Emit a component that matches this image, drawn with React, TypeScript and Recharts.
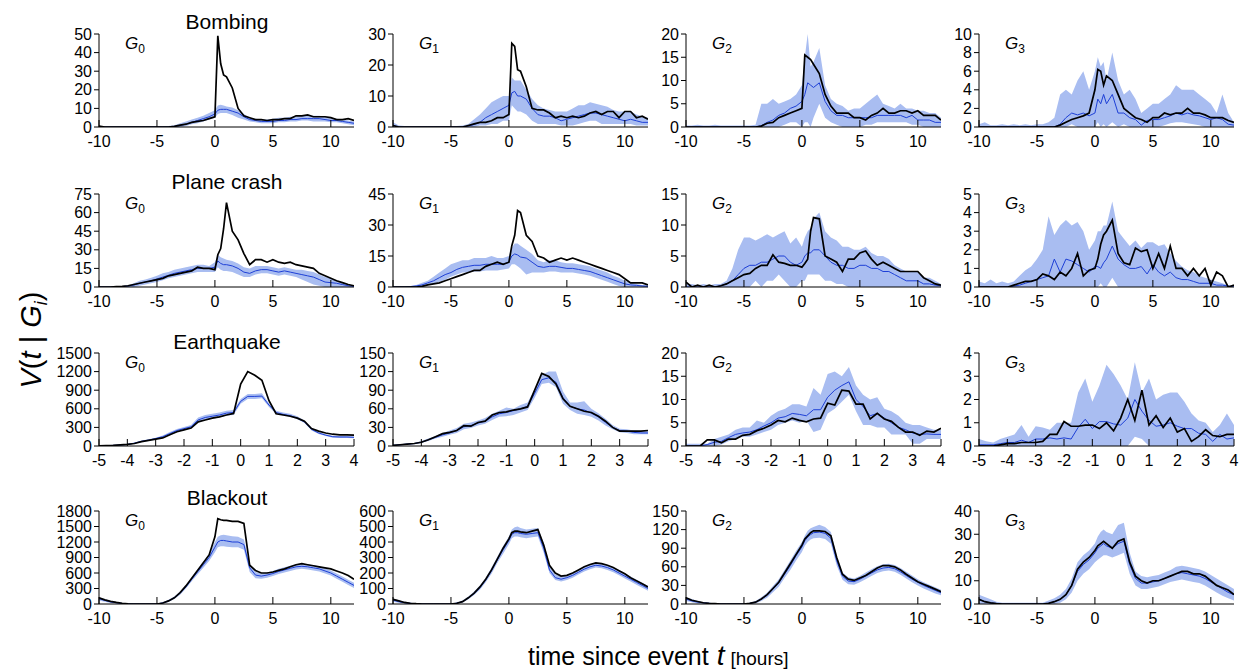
import { ComposedChart, Line, Area, XAxis, YAxis } from 'recharts';

// time grids (hours since event)
const LONG_T = [
  -10, -9.5, -9, -8.5, -8, -7.5, -7, -6.5, -6, -5.5, -5, -4.5, -4,
  -3.5, -3, -2.5, -2, -1.5, -1, -0.5,
  0, 0.25, 0.5, 0.75, 1,
  1.5, 2, 2.5, 3, 3.5, 4, 4.5, 5, 5.5, 6, 6.5, 7, 7.5, 8, 8.5, 9, 9.5, 10, 10.5, 11, 11.5, 12,
];
const QUAKE_T = [
  -5, -4.75, -4.5, -4.25, -4, -3.75, -3.5, -3.25, -3, -2.75, -2.5, -2.25, -2, -1.75, -1.5, -1.25, -1, -0.75, -0.5, -0.25,
  0, 0.25, 0.5, 0.75, 1, 1.25, 1.5, 1.75, 2, 2.25, 2.5, 2.75, 3, 3.25, 3.5, 3.75, 4,
];

const LONG_TICKS = [-10, -5, 0, 5, 10];
const QUAKE_TICKS = [-5, -4, -3, -2, -1, 0, 1, 2, 3, 4];

const EVENTS = ['Bombing', 'Plane crash', 'Earthquake', 'Blackout'];

// y ticks per panel, G0..G3
const bombingTicks = [[0, 10, 20, 30, 40, 50], [0, 10, 20, 30], [0, 5, 10, 15, 20], [0, 2, 4, 6, 8, 10]];
const planeTicks = [[0, 15, 30, 45, 60, 75], [0, 15, 30, 45], [0, 5, 10, 15], [0, 1, 2, 3, 4, 5]];
const quakeTicks = [[0, 300, 600, 900, 1200, 1500], [0, 30, 60, 90, 120, 150], [0, 5, 10, 15, 20], [0, 1, 2, 3, 4]];
const blackoutTicks = [[0, 300, 600, 900, 1200, 1500, 1800], [0, 100, 200, 300, 400, 500, 600], [0, 30, 60, 90, 120, 150], [0, 10, 20, 30, 40]];

// ---- Bombing ----
const bombingBlack = [
  [0.5,0,0,0,0,0,0,0,0,0,0,0,0, 0.3,1,1.5,2.5,3,3.5,4.5, 5.5,49,34,28,27, 21,10,6,5,4,4,3.5,4,4,4.5,4.5,6,6,6.5,5.5,5.5,5.5,5,4,4,4.5,3.5],
  [0.5,0,0,0,0,0,0,0,0,0,0,0,0, 0.5,1,1.5,1.5,2,3,3, 4,27,26,18.5,18, 13,6,5.5,5.5,4.5,3,3.5,3,3.5,3,3.5,4.5,5,4,5,5,3,5,5,3,3.5,2.5],
  [0,0,0,0,0,0,0,0,0,0,0,0,0, 0.2,0.8,1,2,2.5,3,3.5, 4,15.5,15,14.5,13.5, 11.5,7,4.5,3,3,3,2,2,1.5,2.5,3,4,3,3,3.5,3.5,3,3.5,2.5,2.5,2.5,1.5],
  [0,0,0,0,0,0,0,0,0,0,0,0,0, 0,0.2,0.5,0.8,1,1.2,1.5, 4,6.2,6,4.5,5.5, 5,3.5,2,1.5,1,0.8,0.5,1,1,1.5,1.3,1.5,1.5,2,1.5,1.5,1.3,1,1,1,0.7,0.5],
];
const bombingBlue = [
  [0,0,0,0,0,0,0,0,0,0,0,0,0, 0.3,0.8,1.5,2.5,3.5,4.5,5.5, 7,9,9.5,9.5,9.5, 8.5,7.5,5.5,4,3.5,3,3,3,3.5,3.5,4,4,4.5,4.5,4.5,4.5,4,3.5,3.5,3,2.5,2],
  [0.5,0,0,0,0,0,0,0,0,0,0,0,0, 0.3,0.8,1.5,3,4,5,6, 7,11,11.5,10,10, 9,6,4,3.5,3.5,3,2,2.5,3,3.5,4,4.5,4.5,4,3.5,3,2.5,2,2.5,2,1.5,1.5],
  [0,0,0,0,0,0,0,0,0,0,0,0,0, 0.3,1,1.5,2.5,3,4,4.5, 5.5,7,9.5,9,8.5, 9.5,5.5,3.5,2.5,2.5,2,2,2,2,2,2.5,2.5,2.5,2.5,2.5,2,2.5,1.5,1.5,1.5,1,1],
  [0,0,0,0,0,0,0,0,0,0,0,0,0, 0,0.3,1,1.5,1.3,1.5,1.2, 1.5,3,2.5,3.5,2.5, 3.5,1.5,1.5,1,0.8,0.2,0.7,0.8,0.8,1,1.2,1.5,1.3,1.5,1.3,1.2,1,0.8,1,0.8,0.3,0.2],
];
const bombingLow = [
  [0,0,0,0,0,0,0,0,0,0,0,0,0, 0,0,0.5,1.5,2,3,4, 5,7,7.5,7.5,7.5, 6.5,5,4,3,2.5,2,2,2,2.5,2.5,3,3,3.5,3.5,3,3,3,2.5,2.5,2,1.5,1],
  [0,0,0,0,0,0,0,0,0,0,0,0,0, 0,0,0.5,0.5,1,1,2, 2,7,6,5,5, 4,2,1,1,1,1,0.5,0.5,0.5,1,1.5,2,2,1,1,1,1,1,1,0.5,0.5,0.5],
  [0,0,0,0,0,0,0,0,0,0,0,0,0, 0,0,0,0,0.5,1,1, 0,1,1,0,2, 5,2,1,0.5,0,0,0,0,0.5,0.5,1,1,1,1,1,1,0.5,0.5,0,0,0,0],
  [0,0,0,0,0,0,0,0,0,0,0,0,0, 0,0,0,0.3,0,0,0, 0,0.5,0,0.3,0, 0.5,0,0.3,0,0,0,0,0,0,0.2,0.4,0.5,0.5,0.4,0.3,0.2,0,0,0,0,0,0],
];
const bombingHigh = [
  [0.5,0.3,0.3,0.3,0.3,0.3,0.3,0.3,0.3,0.3,0.3,0.3,0.5, 1,2,3,4,5,6,7.5, 9,11.5,12,11.5,11, 10.5,9,7,5,4.5,4,4,4.5,5,5,5.5,5.5,6,6,6,6,5.5,5,4.5,4,3.5,3],
  [1.5,0.5,0.3,0.3,0.3,0.3,0.3,0.3,0.3,0.3,0.3,0.3,0.5, 1,2.5,4,6,8,9,10, 10,16,15,15,15, 12,9,7,6,5.5,5,5,5,6,7,7,8,7.5,7,6.5,5.5,5,5,5,4,3.5,3],
  [0.3,0.3,0.5,0.3,0.3,0.5,0.3,0.3,0.3,0.3,0.3,0.3,0.5, 5,5,6,5,5.5,6,7, 9,15,20,13,14, 17,9,6,5,4.5,3.5,4,4,5,6,7,5,4.5,4,5,4,4,3.5,3.5,3,3,2],
  [0.3,0.5,0.2,0.2,0.3,0.2,0.3,0.2,0.3,0.2,0.3,0.3,0.5, 1,3.5,4,3.5,5,6,4, 6,7.5,6.5,7,5, 8,5,3.5,4,3,1.5,2,2.5,2.5,3,3.5,4.5,4,4,4,3.5,3,2.5,1.5,3.5,1.5,0.5],
];

// ---- Plane crash ----
const planeBlack = [
  [0,0,0,0.3,0.5,1,2,3,4,5,6,7,9, 10,11,12,13,16,15,15, 14,26,31,47,68, 45,38,27,18,22,22,20,22,20,19,20,18,17,16,15,11,9,7,5,3.5,2,1],
  [0,0,0,0,0,0.3,1,1.5,2,3,4,5,6, 7,8,8,10,11,12,11, 12,20,25,37,36, 25,22,15,14,12,13,14,13,14,13,12,11,10,9,8,7,6,4,2,2,2,1],
  [0.8,0,0.3,0,0.3,0,0.2,0.5,1,1.5,2,2.2,3, 3.5,3.5,5.2,4,3.8,3.5,3.5, 3.2,3.8,4.5,9,11.2, 11,5,4.5,4,2.5,4.5,4.5,5.5,5.8,4.5,3.5,4,3.5,3,2.5,2.5,2.5,2.5,1.5,1,0.5,0.3],
  [0,0,0,0,0,0,0.1,0.2,0.3,0.3,0.4,0.7,0.6, 0.4,0.8,0.6,1,1.8,0.6,0.9, 1,1.5,2.3,2.8,3, 3.6,1.8,1.3,1.2,2.1,1.9,2,1,1.8,1,2.2,1,1,0.6,1,0.6,1,0.1,0.8,0.6,0,0.1],
];
const planeBlue = [
  [0,0,0,0,0.3,0.8,1.5,3,4,5,6.5,8,9.5, 11,12,13,14,15,15,15, 16,21,19,18,18, 17,15,12,11,13,14,14,13,12,13,12,11,10,9,8,6,4,3.5,3,2,1,0.5],
  [0,0,0,0.2,0.5,1,2,3,4.5,6,7,8.5,9.5, 10,10.5,10.5,11,11,11,11, 12,15,16,15.5,14.5, 14,12,10,9.5,10,10,9.5,9,9,8.5,8,7.5,6.5,5.5,4.5,3.5,2.5,1.5,1,0.8,0.5,0.3],
  [0,0,0,0,0,0,0.2,0.5,1,2,3,3.5,3.5, 4,4,4.5,5,5,4,3.5, 4,5,5.5,5.5,6, 6,5,4,3.5,3.5,3,3,3.5,3.5,3,3,2.5,2.5,2,1.5,1,1,1,0.5,0.5,0.3,0.2],
  [0,0,0,0,0,0,0.05,0.1,0.2,0.3,0.4,0.5,0.6, 1.5,0.8,1.5,1.4,1.2,1,0.8, 1.1,1.1,1,1.3,1.5, 2.2,1.5,1.2,1,1,1.1,0.7,1.2,0.8,0.6,0.8,0.5,0.4,0.4,0.3,0.2,0.2,0.2,0.1,0.1,0.05,0],
];
const planeLow = [
  [0,0,0,0,0,0,0,1,2,3,4,5.5,7, 8,9,10,11,12,12,12, 12,16,14,13,13, 12,10,8,8,10,11,11,10,9,10,9,8,6,4,2,1,0,0,0,0,0,0],
  [0,0,0,0,0,0,1,1.5,2.5,3.5,5,6,7, 7,7.5,7.5,8,8,8,8.5, 9,11,11,10,9, 6,7,7,7,7.5,7.5,7,7,7,6.5,6,5.5,4.5,3.5,2.5,1.5,0.5,0,0,0,0,0],
  [0,0,0,0,0,0,0,0,0,0,0,0,1, 0,1,1,2,1,0,0, 1,1,2,2,2, 2,1,1,0.5,0.5,0,0,0,0,0,0,0,0,0,0,0,0,0,0,0,0,0],
  [0,0,0,0,0,0,0,0,0,0,0,0,0, 0,0,0,0,0,0,0, 0,0,0.2,0,0, 0.5,0,0,0,0,0,0,0,0,0,0,0,0,0,0,0,0,0,0,0,0,0],
];
const planeHigh = [
  [0.5,0.3,0.3,0.5,0.8,1.5,3,5,6,7.5,9,11,12, 14,15,16,17,18,18,17, 20,26,24,23,22, 21,19,16,15,17,17,17,16,15,16,15,14,14,13,12,10,8,7,5,3.5,2,1],
  [0.5,0.5,0.5,0.5,1,2,3,5,7,9,11,12,13, 13,14,14,14,15,14,14, 15,19,21,21,20, 18,16,13,12,13,13,12,11.5,11.5,11,10.5,10,9,8,7,5.5,4.5,3,2,1.5,1,0.8],
  [0.5,0.5,0.3,0.5,0.3,0.5,0.5,1,3,6,8,8,7.5, 8,8.5,8,8.5,9,7,8, 6.5,8,9,9.5,11, 12,9,8,7.5,6.5,6.5,6,6,6.5,5.5,5,5,4.5,3.5,3,2.5,2.5,2.5,1.5,1.5,1,0.5],
  [0.3,0.2,0.4,0.2,0.3,0.2,0.3,0.6,0.9,1.1,1.5,2,3.8, 2.8,3.3,3.6,3.3,3.5,3,2, 2.5,3,3,3.3,3.3, 4.6,3,2.6,2.2,2.5,2.1,2.4,2.4,2.2,2.3,1.8,1.4,1.1,0.9,0.8,0.6,0.5,0.4,0.3,0.2,0.1,0.05],
];

// ---- Earthquake (QUAKE_T grid) ----
const quakeBlack = [
  [2,5,10,18,25,40,70,90,110,130,180,230,260,290,390,420,450,470,500,525, 1000,1200,1140,1060,730,520,500,480,450,400,280,240,210,190,180,180,175],
  [1,2,3,4,6,10,15,20,22,25,33,32,38,40,50,54,55,58,60,63, 90,117,112,100,76,64,60,56,54,48,40,30,24,24,24,24,25],
  [0,0,0,1.3,1.3,0.7,1.5,1.5,2.3,2.5,3.3,3.8,4.5,5.5,5.2,6,5.5,5.2,5.8,6, 9.2,8.8,12,11.8,9,9,5.8,7,5.8,5.3,4,3,3,2.3,3.2,3,3.8],
  [0,0,0,0.05,0.1,0.1,0.15,0.15,0.15,0.2,0.5,0.5,1.05,0.85,0.85,0.9,0.9,0.75,1,0.65, 1.2,2,1.1,2.4,0.9,1.3,0.8,1.2,0.6,0.75,0.2,0.4,0.7,0.45,0.4,0.5,0.5],
];
const quakeBlue = [
  [2,5,10,15,25,45,75,95,120,150,200,250,280,310,420,460,480,500,530,540, 720,800,800,805,660,540,510,490,450,390,270,210,175,150,145,145,140],
  [1,2,3,4,6,10,14,18,21,25,31,33,37,40,47,52,54,57,60,64, 85,107,110,103,78,64,60,58,53,47,38,30,25,24,22,21,21],
  [0,0,0,0.3,0.8,1,1.8,2.5,2.8,3,3.5,4.3,5,6,6.3,7,6.8,6.5,7.8,7.8, 10.5,12,13,13.8,10,8.5,6.5,7,6,5,4,3.5,2.8,2.5,2.6,2.5,2.5],
  [0.05,0.05,0.05,0.1,0.15,0.15,0.25,0.15,0.3,0.3,0.35,0.3,0.35,0.3,0.8,1.15,0.75,1.05,1.05,0.95, 0.9,1.2,2,1.5,1.1,0.85,0.9,1,0.85,0.75,0.75,0.55,0.5,0.2,0.5,0.3,0.35],
];
const quakeLow = [
  [0,2,5,10,18,35,60,80,105,130,175,225,255,285,380,420,440,460,490,500, 680,760,760,770,630,520,490,470,430,370,250,195,160,135,130,130,125],
  [0,1,2,3,5,8,12,15,18,21,27,29,33,36,42,47,48,50,54,58, 78,100,102,95,68,58,52,50,47,41,33,27,22,21,19,19,19],
  [0,0,0,0,0,0.3,1,1.5,2,2,2.5,3,3.5,4.5,5,5.5,5,5.5,3,3.5, 7,8,9.5,11,7.5,4.5,4.5,4,4,2.5,2.5,2.5,0.5,0.5,1.5,1.5,1.5],
  [0,0,0,0,0,0,0,0,0,0,0,0,0,0,0,0,0,0,0,0, 0,0,0.4,0.3,0,0,0,0,0,0,0,0,0,0,0,0,0],
];
const quakeHigh = [
  [5,10,15,25,35,55,90,110,135,170,225,275,305,340,460,500,520,540,570,580, 760,840,840,850,690,570,540,520,480,410,290,225,190,165,160,160,155],
  [2,3,4,5,8,12,16,21,25,29,36,38,41,45,52,57,62,60,66,70, 92,115,120,120,88,70,70,72,60,53,44,34,28,27,25,24,24],
  [0.5,0.5,0.5,0.5,1.5,2,2.5,3.5,4,4,5.5,5,6.5,7.5,8,9,9,8.5,12.5,11, 15.5,16,15,17,13,11,10,10.5,8,7.5,6.5,5,4.5,4.5,4,3.5,3.5],
  [0.3,0.2,0.15,0.3,0.4,0.5,0.9,0.4,0.85,0.8,0.7,1,1,1,2.3,2.9,1.9,2.6,3.5,3.1, 2.6,2,3.6,2.3,2.9,2,2.2,2.3,2.3,1.9,1.4,1.1,1,0.6,0.9,1.4,0.9],
];

// ---- Blackout ----
const blackoutBlack = [
  [120,80,50,30,15,5,0,0,0,0,0,20,60, 120,220,350,500,650,800,950, 1300,1650,1630,1620,1620, 1600,1600,1560,750,650,600,600,620,650,680,720,760,780,760,740,720,700,680,640,600,550,480],
  [30,20,10,5,2,0,0,0,0,0,0,5,15, 40,70,110,160,220,290,360, 420,460,470,470,465, 460,470,480,380,250,200,180,185,200,220,240,255,265,260,250,235,215,195,170,150,130,110],
  [10,6,4,2,1,0.5,0,0,0,0,0,1,3, 8,15,25,35,50,65,80, 95,105,110,115,118, 118,117,110,75,48,40,38,42,46,52,58,62,62,60,55,48,42,36,32,28,24,20],
  [2,1,0.5,0.2,0,0,0,0,0,0,0,0,0.3, 1,2,4,8,15,18,20, 23,25,26,27,26, 24,27,28,18,12,10,9,10,10,11,12,13,14,14,13,13,12,10,8,7,6,4],
];
const blackoutBlue = [
  [100,70,40,25,10,3,0,0,0,0,0,20,60, 120,210,330,480,620,760,900, 1100,1200,1230,1230,1220, 1200,1200,1150,700,560,540,560,590,630,660,690,720,730,720,700,680,640,600,540,480,420,360],
  [25,15,8,4,2,0,0,0,0,0,0,5,15, 38,68,105,155,215,285,350, 410,450,460,460,455, 450,455,460,360,220,170,160,170,185,205,225,240,250,245,235,220,200,180,160,140,120,100],
  [8,5,3,2,1,0.5,0,0,0,0,0,1,3, 8,14,24,34,48,62,78, 92,102,108,112,115, 116,114,106,70,45,37,36,40,45,50,55,58,59,57,52,46,40,35,30,26,22,18],
  [2,1,0.5,0.2,0,0,0,0,0,0,0,0,0.3, 1,2,4,8,14,17,19, 22,24,25,26,25, 24,26,27,17,11,9,9,9.5,10,11,12,13,13.5,13,12.5,12,11,9.5,8,6.5,5,4],
];
const blackoutLow = [
  [70,45,20,10,0,0,0,0,0,0,0,5,40, 95,180,300,440,570,700,830, 1000,1100,1120,1120,1110, 1100,1100,1050,620,500,490,510,540,580,610,640,670,680,670,650,630,590,550,490,430,370,310],
  [15,8,3,1,0,0,0,0,0,0,0,2,10, 30,58,92,140,195,265,325, 385,425,435,435,430, 425,430,435,330,200,155,145,155,170,190,210,225,235,230,220,205,185,165,145,125,105,85],
  [5,3,1,0.5,0,0,0,0,0,0,0,0,1, 5,10,19,28,42,55,70, 84,94,100,104,106, 107,105,97,62,39,32,31,35,40,45,50,53,54,52,47,41,35,30,25,21,17,14],
  [0,0,0,0,0,0,0,0,0,0,0,0,0, 0,0.5,2,5,10,13,15, 18,19,20,21,21, 20,21,22,13,8,6.5,6.5,7,7.5,8.5,9.5,10,10.5,10,9.5,9,8,6.5,5,3.5,2.5,1.5],
];
const blackoutHigh = [
  [130,95,60,40,20,8,3,3,3,3,3,35,80, 145,240,360,520,670,820,970, 1200,1300,1330,1340,1330, 1310,1300,1250,780,620,590,610,640,680,710,740,770,780,770,750,730,690,650,590,530,470,410],
  [35,25,15,8,4,2,2,2,2,2,2,10,22, 48,80,120,170,235,305,375, 435,480,495,500,490, 480,485,490,395,245,190,178,188,202,222,242,257,267,262,252,237,217,197,177,157,137,117],
  [11,8,5,3,2,1,0.5,0.5,0.5,0.5,0.5,2,5, 11,18,29,40,55,70,86, 100,110,118,122,124, 128,124,116,78,51,43,41,45,51,56,61,64,65,63,58,52,46,40,35,31,27,23],
  [4,3,2,1,0.5,0.5,0.5,0.5,0.5,0.5,0.5,0.5,1.5, 2.5,4,6.5,11,18,21,23, 26,29,31,32,31, 30,34,35,22,14,12,11.5,12,12.5,13.5,14.5,16,16.5,16,15.5,15,14,12.5,11,9.5,8,6.5],
];

const ROWS = [
  { t: LONG_T, xTicks: LONG_TICKS, xDomain: [-10, 12], ticks: bombingTicks, black: bombingBlack, blue: bombingBlue, low: bombingLow, high: bombingHigh },
  { t: LONG_T, xTicks: LONG_TICKS, xDomain: [-10, 12], ticks: planeTicks, black: planeBlack, blue: planeBlue, low: planeLow, high: planeHigh },
  { t: QUAKE_T, xTicks: QUAKE_TICKS, xDomain: [-5, 4], ticks: quakeTicks, black: quakeBlack, blue: quakeBlue, low: quakeLow, high: quakeHigh },
  { t: LONG_T, xTicks: LONG_TICKS, xDomain: [-10, 12], ticks: blackoutTicks, black: blackoutBlack, blue: blackoutBlue, low: blackoutLow, high: blackoutHigh },
];

const PLOT_LEFT = [99, 393, 686, 979];
const PLOT_TOP = [34, 194, 353, 511];
const TITLE_TOP = [11, 171, 331, 487];
const AXIS_W = 45;
const PAD_TOP = 12;
const X_TICK_GAP = 9;
const FONT = '"Liberation Sans", Arial, sans-serif';
const BAND = '#a9bdf1';
const BLUE = '#1d3fd6';

const XTick = (props: any) => {
  const { x, y, payload } = props;
  return (
    <g>
      <line x1={x} x2={x} y1={y - X_TICK_GAP} y2={y - X_TICK_GAP - 7} stroke="#000" strokeWidth={1} />
      <text x={x} y={y} dy="0.71em" textAnchor="middle" fontSize={16} fill="#000">
        {payload.value}
      </text>
    </g>
  );
};

function Panel({ row, g }: { row: number; g: number }) {
  const r = ROWS[row];
  const yTicks = r.ticks[g];
  const data = r.t.map((t, i) => ({
    t,
    k: r.black[g][i],
    b: r.blue[g][i],
    band: [r.low[g][i], r.high[g][i]],
  }));
  return (
    <div style={{ position: 'absolute', left: PLOT_LEFT[g] - AXIS_W, top: PLOT_TOP[row] - PAD_TOP }}>
      <ComposedChart width={306} height={135} data={data} margin={{ top: PAD_TOP, right: 6, bottom: 0, left: 0 }}>
        <XAxis
          dataKey="t"
          type="number"
          domain={r.xDomain}
          ticks={r.xTicks}
          interval={0}
          allowDataOverflow
          height={30}
          tickSize={X_TICK_GAP}
          tickMargin={0}
          tickLine={false}
          axisLine={{ stroke: '#000' }}
          tick={(p: any) => <XTick {...p} />}
        />
        <YAxis
          type="number"
          domain={[0, yTicks[yTicks.length - 1]]}
          ticks={yTicks}
          interval={0}
          allowDataOverflow
          width={AXIS_W}
          tickSize={5}
          tickMargin={2}
          axisLine={{ stroke: '#000' }}
          tickLine={{ stroke: '#000' }}
          tick={{ fill: '#000', fontSize: 16 }}
        />
        <Area dataKey="band" type="linear" stroke="none" fill={BAND} fillOpacity={1} isAnimationActive={false} />
        <Line dataKey="b" type="linear" stroke={BLUE} strokeWidth={1} dot={false} isAnimationActive={false} />
        <Line dataKey="k" type="linear" stroke="#000" strokeWidth={1.7} dot={false} isAnimationActive={false} />
      </ComposedChart>
      <div style={{ position: 'absolute', left: AXIS_W + 26, top: PAD_TOP + 1, fontSize: 17, fontStyle: 'italic', lineHeight: 1 }}>
        G<sub style={{ fontSize: 12, fontStyle: 'normal', verticalAlign: -4 }}>{g}</sub>
      </div>
    </div>
  );
}

export default function App() {
  return (
    <div style={{ position: 'absolute', left: 0, top: 0, width: 1242, height: 670, background: '#fff', fontFamily: FONT, color: '#000', overflow: 'hidden' }}>
      {EVENTS.map((name, row) => (
        <div key={name} style={{ position: 'absolute', left: 227, top: TITLE_TOP[row], transform: 'translateX(-50%)', fontSize: 21, whiteSpace: 'nowrap', lineHeight: 1 }}>
          {name}
        </div>
      ))}
      {ROWS.map((_, row) => [0, 1, 2, 3].map((g) => <Panel key={`${row}-${g}`} row={row} g={g} />))}
      <div style={{ position: 'absolute', left: 33, top: 340, transform: 'translate(-50%, -50%) rotate(-90deg)', fontSize: 29, whiteSpace: 'nowrap', lineHeight: 1 }}>
        <i>V</i>(<i>t</i> | <i>G</i><sub style={{ fontSize: 18, verticalAlign: -6 }}><i>i</i></sub>)
      </div>
      <div style={{ position: 'absolute', left: 528, top: 640, display: 'flex', alignItems: 'baseline', whiteSpace: 'nowrap' }}>
        <span style={{ fontSize: 25 }}>time since event</span>
        <span style={{ fontSize: 28, fontStyle: 'italic', marginLeft: 8 }}>t</span>
        <span style={{ fontSize: 19, marginLeft: 6 }}>[hours]</span>
      </div>
    </div>
  );
}
